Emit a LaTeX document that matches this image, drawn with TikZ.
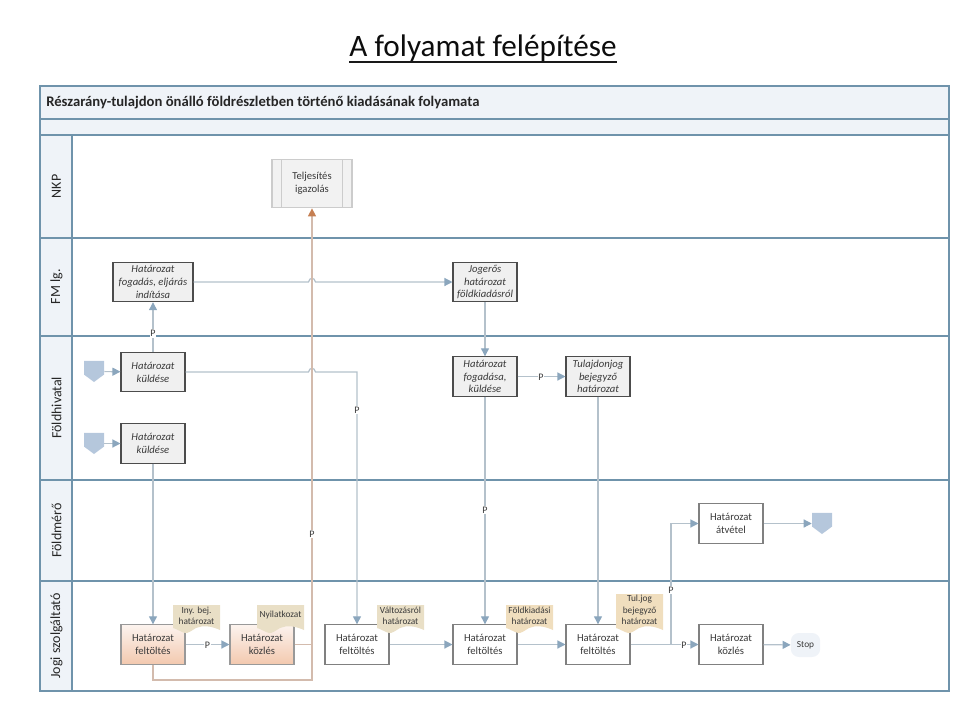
\documentclass[tikz,border=0pt]{standalone}
\usepackage{fontspec}
\setmainfont{Carlito}
\usetikzlibrary{arrows.meta}
\definecolor{lanecol}{HTML}{6F93AB}
\definecolor{headcol}{HTML}{EFF3F8}
\definecolor{flowcol}{HTML}{B4C1CB}
\definecolor{tipcol}{HTML}{8BA6BD}
\definecolor{browncol}{HTML}{D3BBAD}
\definecolor{browntip}{HTML}{C57F52}
\definecolor{txtcol}{HTML}{3A3A3A}
\definecolor{offcol}{HTML}{B5C7DC}
\definecolor{uptop}{HTML}{FCF3EE}
\definecolor{upbot}{HTML}{F3C9AF}
\tikzset{
    lane/.style={draw=lanecol, line width=1.5pt},
    head/.style={lane, fill=headcol},
    lanetext/.style={rotate=90, font=\fontsize{10.5}{13}\selectfont, text=black!85},
    task/.style={draw=black!60, line width=0.8pt, minimum width=48pt, minimum height=29.5pt, inner sep=0pt, align=center, font=\fontsize{8}{9.6}\selectfont, text=txtcol},
    plain/.style={task, draw=black!50, fill=white},
    manual/.style={task, draw=black!70, fill=black!6, font=\fontsize{8}{9.6}\selectfont\itshape},
    upload/.style={task, draw=black!40, top color=uptop, bottom color=upbot},
    docnote/.style={inner sep=0pt, align=center, font=\fontsize{7}{8.5}\selectfont, text=txtcol},
    offpage/.style={minimum width=15pt, minimum height=15.8pt, inner sep=0pt,
        path picture={\fill[offcol] (path picture bounding box.north west) -- (path picture bounding box.north east) -- ([yshift=5.6pt]path picture bounding box.south east) -- (path picture bounding box.south) -- ([yshift=5.6pt]path picture bounding box.south west) -- cycle;}},
    plabel/.style={fill=white, inner sep=0.6pt, font=\fontsize{7.5}{8}\selectfont, text=txtcol},
    flow/.style={draw=flowcol, line width=0.9pt, -{Triangle[length=6pt,width=6pt,color=tipcol]}},
    flowend/.style={draw=flowcol, line width=0.9pt},
    brown/.style={draw=browncol, line width=0.9pt},
}
\begin{document}
\begin{tikzpicture}[x=0.75pt, y=-0.75pt]
    \useasboundingbox (0,0) rectangle (959,710);
    \node[anchor=base, inner sep=0pt, font=\fontsize{23.4}{28}\selectfont, text=black!95] (title) at (483,57) {A folyamat felépítése};
    \draw[line width=1.6pt, black!90] ([yshift=-3.6pt]title.base west) -- ([yshift=-3.6pt]title.base east);

    % bands and lanes
    \draw[head] (40,86) rectangle (949,119);
    \draw[head] (40,119) rectangle (949,135);
    \node[anchor=west, font=\bfseries\fontsize{11}{12}\selectfont, text=black!85, inner sep=0pt] (band) at (46,102.5) {Részarány-tulajdon önálló földrészletben történő kiadásának folyamata};
    \foreach \nm/\ya/\yb/\txt in {nkp/135/238/NKP, fmi/238/335.5/FM lg., fhiv/335.5/480/Földhivatal, fmer/480/581/Földmérő, jogi/581/691/Jogi szolgáltató} {
        \draw[lane] (40,\ya) rectangle (949,\yb);
        \draw[head] (40,\ya) rectangle (72,\yb);
        \node[lanetext] (\nm) at (56.5,{(\ya+\yb)/2}) {\txt};
    }

    % steps
    \node[task, draw=black!20, fill=black!5, minimum width=60pt, minimum height=36.5pt] (telj) at (312,183.5) {Teljesítés\\igazolás};
    \draw[black!20, line width=0.8pt] (281.5,159) -- (281.5,208) (342.5,159) -- (342.5,208);
    \node[manual, minimum width=60pt] (hfog) at (153,282) {Határozat\\fogadás, eljárás\\indítása};
    \node[manual] (jog) at (485,282) {Jogerős\\határozat\\földkiadásról};
    \node[manual] (kuld) at (153,372) {Határozat\\küldése};
    \node[manual] (kuldb) at (153,443.5) {Határozat\\küldése};
    \node[manual] (fogad) at (485,376.5) {Határozat\\fogadása,\\küldése};
    \node[manual] (tulaj) at (598,376.5) {Tulajdonjog\\bejegyző\\határozat};
    \node[plain] (atvet) at (731,523.5) {Határozat\\átvétel};
    \node[upload] (felta) at (153,644.5) {Határozat\\feltöltés};
    \node[upload] (kozla) at (262,644.5) {Határozat\\közlés};
    \node[plain] (feltb) at (357,644.5) {Határozat\\feltöltés};
    \node[plain] (feltc) at (485,644.5) {Határozat\\feltöltés};
    \node[plain] (feltd) at (598,644.5) {Határozat\\feltöltés};
    \node[plain] (kozlb) at (731,644.5) {Határozat\\közlés};
    \node[rounded corners=6pt, fill=headcol, minimum width=22pt, minimum height=18pt, inner sep=0pt, font=\fontsize{7}{8}\selectfont, text=txtcol] (stop) at (805.5,645) {Stop};
    \node[offpage] (offa) at (94,371.5) {};
    \node[offpage] (offb) at (94,443.5) {};
    \node[offpage] (offc) at (822,523.5) {};
    \coordinate (jumpa) at (308.5,282);
    \coordinate (jumpb) at (315.5,282);
    \coordinate (jumpc) at (308.5,372);
    \coordinate (jumpd) at (315.5,372);
    \coordinate (split) at (671,644.5);

    % connectors
    \draw[flow] (offa) -- (kuld);
    \draw[flow] (offb) -- (kuldb);
    \draw[flow] (kuld) -- (hfog);
    \draw[flow] (hfog) -- (jumpa) .. controls +(1,-5) and +(-1,-5) .. (jumpb) -- (jog);
    \draw[flow] (kuld) -- (jumpc) .. controls +(1,-5) and +(-1,-5) .. (jumpd) -| (feltb);
    \draw[flow] (jog) -- (fogad);
    \draw[flow] (fogad) -- (tulaj);
    \draw[flow] (kuldb) -- (felta);
    \draw[flow] (fogad) -- (feltc);
    \draw[flow] (tulaj) -- (feltd);
    \draw[flow] (felta) -- (kozla);
    \draw[flow] (feltb) -- (feltc);
    \draw[flow] (feltc) -- (feltd);
    \draw[flowend] (feltd) -- (split);
    \draw[flow] (split) -- (kozlb);
    \draw[flow] (split) |- (atvet);
    \draw[flow] (atvet) -- (offc);
    \draw[flow] (kozlb) -- (stop);
    \draw[brown] (kozla.east) -- (312,644.5);
    \draw[brown, -{Triangle[length=6pt,width=6pt,color=browntip]}] (felta.south) |- (312,680) -- (telj.south);

    % documents
    \foreach \nm/\xa/\ya/\cola/\txt in {docny/173/605/E9DFC6/{Iny. bej.\\határozat}, docnyil/257/605/E9DFC6/{Nyilatkozat}, docval/377/605/E9DFC6/{Változásról\\határozat}, docfold/506/605/F0DEBE/{Földkiadási\\határozat}, doctul/616/594/F0DEBE/{Tul.jog\\bejegyző\\határozat}} {
        \definecolor{thisdoc}{HTML}{\cola}
        \fill[thisdoc] (\xa,\ya) -- ({\xa+47},\ya) -- ({\xa+47},630) .. controls ({\xa+38},626) and ({\xa+30},625) .. ({\xa+23},628) .. controls ({\xa+18},631) and ({\xa+15},633.5) .. ({\xa+12},633) .. controls ({\xa+8},632) and ({\xa+4},629) .. (\xa,628) -- cycle;
        \node[docnote] (\nm) at ({\xa+23.5},{(\ya+627)/2-0.5}) {\txt};
    }

    % labels
    \node[plabel] (pa) at (153,333.5) {P};
    \node[plabel] (pb) at (357,410) {P};
    \node[plabel] (pc) at (312,534) {P};
    \node[plabel] (pd) at (485,510) {P};
    \node[plabel] (pe) at (541,377) {P};
    \node[plabel] (pf) at (207.5,645) {P};
    \node[plabel] (pg) at (671,590) {P};
    \node[plabel] (ph) at (684,645) {P};
\end{tikzpicture}
\end{document}
